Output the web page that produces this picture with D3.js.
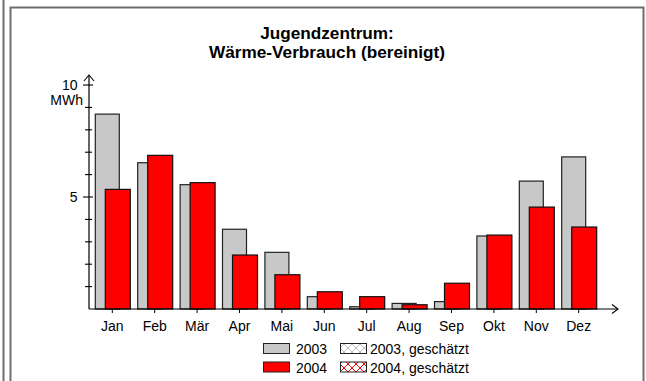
<!DOCTYPE html>
<html>
<head>
<meta charset="utf-8">
<script src="https://cdn.jsdelivr.net/npm/d3@7"></script>
<style>
  html, body { margin: 0; padding: 0; background: #fff; }
  svg { display: block; font-family: "Liberation Sans", Arial, Helvetica, sans-serif; }
</style>
</head>
<body>
<svg id="chart" width="646" height="381"></svg>
<script>
// Monthly heat consumption (MWh), adjusted
const months = ["Jan", "Feb", "Mär", "Apr", "Mai", "Jun", "Jul", "Aug", "Sep", "Okt", "Nov", "Dez"];
const values2003 = [8.7, 6.53, 5.55, 3.56, 2.53, 0.55, 0.1, 0.25, 0.33, 3.26, 5.71, 6.79];
const values2004 = [5.34, 6.86, 5.64, 2.41, 1.53, 0.77, 0.55, 0.19, 1.15, 3.3, 4.55, 3.66];
const yTickValues = [1, 2, 3, 4, 5, 6, 7, 8, 9, 10];
const yLabelValues = [5, 10];
const titleLines = ["Jugendzentrum:", "Wärme-Verbrauch (bereinigt)"];
const legendItems = [
  { label: "2003", kind: "solid2003" },
  { label: "2003, geschätzt", kind: "hatch2003" },
  { label: "2004", kind: "solid2004" },
  { label: "2004, geschätzt", kind: "hatch2004" }
];

const svg = d3.select("#chart");
const grey = "#c8c8c8", red = "#ff0000";

// hatch patterns for estimated values
const defs = svg.append("defs");
function hatch(id, color) {
  const p = defs.append("pattern").attr("id", id).attr("patternUnits", "userSpaceOnUse")
    .attr("width", 8).attr("height", 8).attr("x", 0).attr("y", 0);
  p.append("rect").attr("width", 8).attr("height", 8).attr("fill", "#fff");
  p.append("path").attr("d", "M0,0L8,8M8,0L0,8").attr("stroke", color).attr("stroke-width", 1);
}
hatch("h2003", "#bbbbbb");
hatch("h2004", red);

// frame
svg.append("line").attr("x1", 3.5).attr("x2", 3.5).attr("y1", 0).attr("y2", 381)
  .attr("stroke", "#6e6e6e").attr("stroke-width", 2);
svg.append("path").attr("d", "M10.5,381V7.5H643.5V381")
  .attr("fill", "none").attr("stroke", "#6e6e6e").attr("stroke-width", 2);

// title
svg.append("text").attr("x", 327).attr("y", 38.5).attr("text-anchor", "middle")
  .attr("font-weight", "bold").attr("font-size", 17.2)
  .selectAll("tspan").data(titleLines).join("tspan")
  .attr("x", 327).attr("dy", (d, i) => i === 0 ? 0 : 19.5).text(d => d);

// scales
const x = d3.scaleBand().domain(months).range([91.1, 599.9]).padding(0);
const y = d3.scaleLinear().domain([0, 10]).range([309, 85]);
const bw = x.bandwidth();

// bars: 2003 behind, 2004 in front
const g = svg.append("g");
g.selectAll("rect.y2003").data(months).join("rect").attr("class", "y2003")
  .attr("x", (d) => x(d) + bw / 2 - 17).attr("width", 24)
  .attr("y", (d, i) => y(values2003[i])).attr("height", (d, i) => y(0) - y(values2003[i]))
  .attr("fill", grey).attr("stroke", "#222").attr("stroke-width", 1.2);
g.selectAll("rect.y2004").data(months).join("rect").attr("class", "y2004")
  .attr("x", (d) => x(d) + bw / 2 - 7).attr("width", 25)
  .attr("y", (d, i) => y(values2004[i])).attr("height", (d, i) => y(0) - y(values2004[i]))
  .attr("fill", red).attr("stroke", "#111").attr("stroke-width", 1.2);

// y axis
const y0 = y(0), axX = 89;
svg.append("line").attr("x1", axX).attr("x2", axX).attr("y1", y0).attr("y2", 75)
  .attr("stroke", "#000").attr("stroke-width", 1.2);
svg.append("path").attr("d", `M${axX - 5},${81}L${axX},${75}L${axX + 5},${81}`)
  .attr("fill", "none").attr("stroke", "#000").attr("stroke-width", 1.1);
svg.selectAll("line.ytick").data(yTickValues).join("line").attr("class", "ytick")
  .attr("x1", d => yLabelValues.includes(d) ? axX - 6 : axX - 4)
  .attr("x2", d => yLabelValues.includes(d) ? axX + 4 : axX + 3)
  .attr("y1", d => y(d)).attr("y2", d => y(d))
  .attr("stroke", "#000").attr("stroke-width", 1.1);
svg.selectAll("text.ylab").data(yLabelValues).join("text").attr("class", "ylab")
  .attr("x", 77.5).attr("y", d => y(d) + 5).attr("text-anchor", "end")
  .attr("font-size", 14).text(d => d);
svg.append("text").attr("x", 83).attr("y", 105).attr("text-anchor", "end")
  .attr("font-size", 14).text("MWh");

// x axis
svg.append("line").attr("x1", axX).attr("x2", 618).attr("y1", y0).attr("y2", y0)
  .attr("stroke", "#000").attr("stroke-width", 1.2);
svg.append("path").attr("d", `M${612},${y0 - 4.5}L${618},${y0}L${612},${y0 + 4.5}`)
  .attr("fill", "none").attr("stroke", "#000").attr("stroke-width", 1.1);
svg.selectAll("line.xtick").data(months).join("line").attr("class", "xtick")
  .attr("x1", d => x(d) + bw / 2).attr("x2", d => x(d) + bw / 2)
  .attr("y1", y0).attr("y2", y0 + 4).attr("stroke", "#000");
svg.selectAll("text.xlab").data(months).join("text").attr("class", "xlab")
  .attr("x", d => x(d) + bw / 2).attr("y", y0 + 21.5).attr("text-anchor", "middle")
  .attr("font-size", 14).text(d => d);

// legend
const fills = { solid2003: grey, solid2004: red, hatch2003: "url(#h2003)", hatch2004: "url(#h2004)" };
const lg = svg.append("g");
legendItems.forEach((it, i) => {
  const col = i % 2, row = Math.floor(i / 2);
  const sx = col === 0 ? 263.5 : 340.5, sy = 343.5 + row * 18.5;
  lg.append("rect").attr("x", sx).attr("y", sy).attr("width", 26).attr("height", 10)
    .attr("fill", fills[it.kind]).attr("stroke", "#222").attr("stroke-width", 1);
  lg.append("text").attr("x", col === 0 ? 296 : 370).attr("y", sy + 10.5)
    .attr("font-size", 14).text(it.label);
});
</script>
</body>
</html>
